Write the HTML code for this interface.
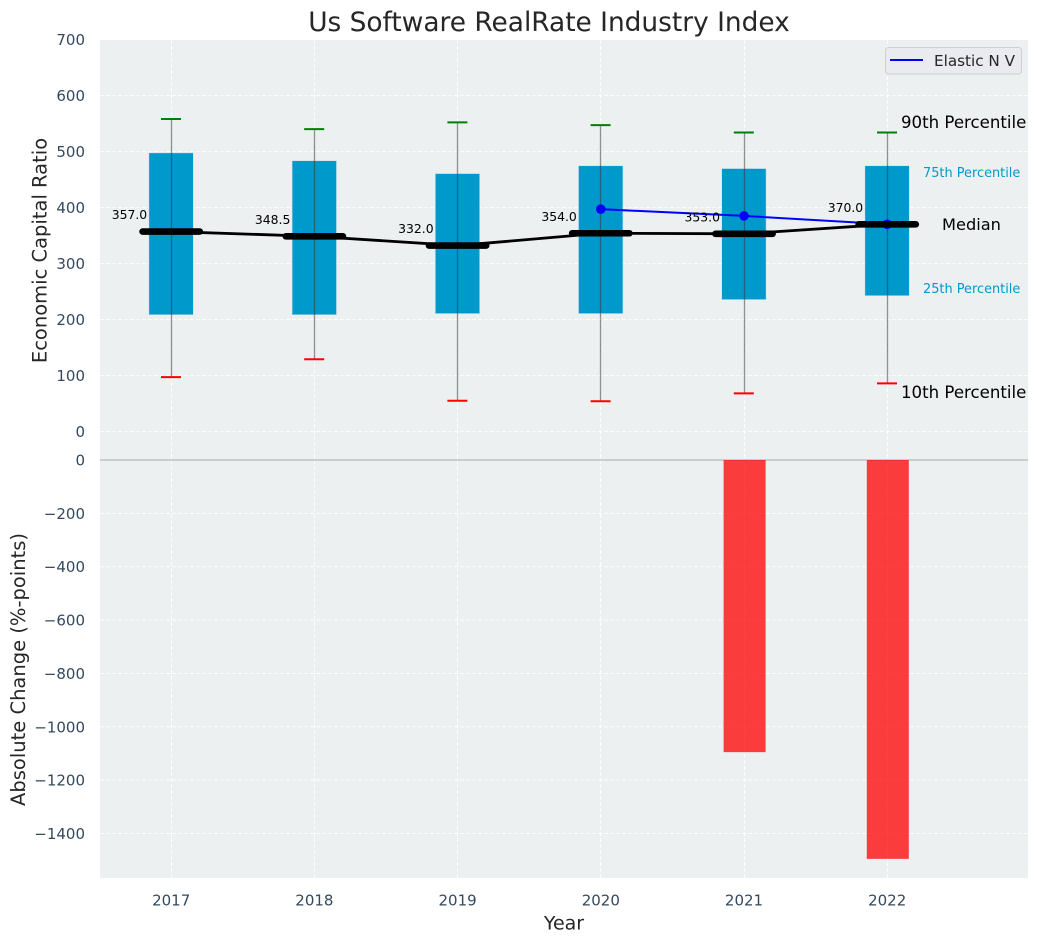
<!DOCTYPE html>
<html lang="en">
<head>
<meta charset="utf-8">
<title>Us Software RealRate Industry Index</title>
<style>
html,body{margin:0;padding:0;background:#fff;width:1039px;height:942px;overflow:hidden}
svg{display:block}
text{font-family:"DejaVu Sans","Liberation Sans",sans-serif}
</style>
</head>
<body>
<svg id="chart" xmlns="http://www.w3.org/2000/svg" width="1039" height="942" viewBox="0 0 1039 942"></svg>
<script>
const years = [2017, 2018, 2019, 2020, 2021, 2022];
const p10 = [97, 129, 55, 54, 68, 86];
const p25 = [209, 209, 211, 211, 236, 243];
const medians = [357, 348.5, 332, 354, 353, 370];
const p75 = [497, 483, 460, 474, 469, 474];
const p90 = [558, 540, 552, 547, 534, 534];
const elasticYears = [2020, 2021, 2022];
const elasticValues = [397, 385, 370];
const changeYears = [2021, 2022];
const changeValues = [-1095, -1495];
const topTicks = [0, 100, 200, 300, 400, 500, 600, 700];
const bottomTicks = [0, -200, -400, -600, -800, -1000, -1200, -1400];

const svg = document.getElementById('chart');
const NS = 'http://www.w3.org/2000/svg';
const plotLeft = 100, plotRight = 1028, plotTop = 40, plotBottom = 878;
const xS = v => 171.2 + (v - 2017) * 143.2;
const xPx = v => Math.floor(xS(v) + 0.1) + 0.5;
const yTop = v => 431.5 - v * 0.56;
const yBottom = v => 460 - v * 0.2668;
const fmtTick = v => String(v).replace('-', '\u2212');

function add(tag, attrs, text) {
  const el = document.createElementNS(NS, tag);
  for (const k in attrs) el.setAttribute(k, attrs[k]);
  if (text !== undefined) el.textContent = text;
  svg.appendChild(el);
  return el;
}

let el;
el = add('rect', {x: plotLeft, y: plotTop, width: plotRight - plotLeft, height: plotBottom - plotTop, fill: '#ecf0f1'});



// Grid
years.forEach(function (yr) {
  const g = add('line', {x1: xPx(yr), x2: xPx(yr), y1: plotTop, y2: plotBottom, stroke: '#fff', 'stroke-width': 1, 'stroke-dasharray': '4 2', opacity: 0.9});
  
  
});
topTicks.forEach(function (t) {
  const g = add('line', {x1: plotLeft, x2: plotRight, y1: yTop(t), y2: yTop(t), stroke: '#fff', 'stroke-width': 1, 'stroke-dasharray': '4 2', opacity: 0.9});
  
  
  const l = add('text', {x: 85, y: yTop(t) + 5.5, 'text-anchor': 'end', 'font-size': 15, fill: '#34495e'}, fmtTick(t));
  
  
});
bottomTicks.forEach(function (t) {
  if (t !== 0) {
    const g = add('line', {x1: plotLeft, x2: plotRight, y1: yBottom(t), y2: yBottom(t), stroke: '#fff', 'stroke-width': 1, 'stroke-dasharray': '4 2', opacity: 0.9});
    
    
  }
  const l = add('text', {x: 85, y: yBottom(t) + 5.5, 'text-anchor': 'end', 'font-size': 15, fill: '#34495e'}, fmtTick(t));
  
  
});
el = add('line', {x1: plotLeft, x2: plotRight, y1: yBottom(0), y2: yBottom(0), stroke: '#b5b5b5', 'stroke-width': 1.3});



// Change bars
changeYears.forEach(function (yr, i) {
  const b = add('rect', {x: xS(yr) - 20.4, y: yBottom(0), width: 42, height: yBottom(changeValues[i]) - yBottom(0), fill: '#ff0000', 'fill-opacity': 0.75});
  
  
});

// Boxes
years.forEach(function (yr, i) {
  const b = add('rect', {x: xS(yr) - 22, y: yTop(p75[i]), width: 43.8, height: yTop(p25[i]) - yTop(p75[i]), fill: '#0099cc', stroke: '#0099cc', 'stroke-opacity': 0.2, 'stroke-width': 1});
  
  
});
// Whiskers and caps
years.forEach(function (yr, i) {
  const w = add('line', {x1: xPx(yr), x2: xPx(yr), y1: yTop(p90[i]), y2: yTop(p10[i]), stroke: '#3a3a3a', 'stroke-opacity': 0.55, 'stroke-width': 1.3});
  
  
  const hi = add('line', {x1: xS(yr) - 10.2, x2: xS(yr) + 9.8, y1: yTop(p90[i]), y2: yTop(p90[i]), stroke: '#008000', 'stroke-width': 2});
  
  
  const lo = add('line', {x1: xS(yr) - 10.2, x2: xS(yr) + 9.8, y1: yTop(p10[i]), y2: yTop(p10[i]), stroke: '#ff0000', 'stroke-width': 2});
  
  
});

// Elastic N V series
el = add('polyline', {points: elasticYears.map(function (yr, i) { return xS(yr) + ',' + yTop(elasticValues[i]); }).join(' '), fill: 'none', stroke: '#0000ff', 'stroke-width': 2});


elasticYears.forEach(function (yr, i) {
  const c = add('circle', {cx: xS(yr), cy: yTop(elasticValues[i]), r: 4.8, fill: '#0000ff'});
  
  
});

// Median trend and bars
el = add('polyline', {points: years.map(function (yr, i) { return xS(yr) + ',' + yTop(medians[i]); }).join(' '), fill: 'none', stroke: '#000', 'stroke-width': 2.8});


years.forEach(function (yr, i) {
  const m = add('line', {x1: xS(yr) - 28.6, x2: xS(yr) + 28.6, y1: yTop(medians[i]), y2: yTop(medians[i]), stroke: '#000', 'stroke-width': 6.6, 'stroke-linecap': 'round'});
  
  
  const t = add('text', {x: xS(yr) - 24, y: yTop(medians[i]) - 12.5, 'text-anchor': 'end', 'font-size': 12.4, fill: '#000'}, medians[i].toFixed(1));
  
  
  const x = add('text', {x: xS(yr), y: 905.5, 'text-anchor': 'middle', 'font-size': 15, fill: '#34495e'}, String(yr));
  
  
});

// Percentile annotations
el = add('text', {x: 901, y: 128, 'font-size': 16.6, fill: '#000'}, '90th Percentile');


el = add('text', {x: 923, y: 177, 'font-size': 12.9, fill: '#0099cc'}, '75th Percentile');


el = add('text', {x: 971.5, y: 230, 'text-anchor': 'middle', 'font-size': 16.2, fill: '#000'}, 'Median');


el = add('text', {x: 923, y: 293, 'font-size': 12.9, fill: '#0099cc'}, '25th Percentile');


el = add('text', {x: 901, y: 398, 'font-size': 16.6, fill: '#000'}, '10th Percentile');



// Legend
el = add('rect', {x: 885.5, y: 47.5, width: 136, height: 26.5, rx: 3, fill: '#eaeaf2', stroke: '#cccccc', 'stroke-width': 1, opacity: 0.9});


el = add('line', {x1: 890, x2: 923, y1: 60, y2: 60, stroke: '#0000ff', 'stroke-width': 2});


el = add('text', {x: 934, y: 66, 'font-size': 15.2, fill: '#262626'}, 'Elastic N V');



// Titles
el = add('text', {x: 549, y: 31, 'text-anchor': 'middle', 'font-size': 26.4, fill: '#262626'}, 'Us Software RealRate Industry Index');


el = add('text', {x: 564, y: 929.5, 'text-anchor': 'middle', 'font-size': 19, fill: '#262626'}, 'Year');


el = add('text', {transform: 'translate(46.5,250.5) rotate(-90)', 'text-anchor': 'middle', 'font-size': 19.5, fill: '#262626'}, 'Economic Capital Ratio');


el = add('text', {transform: 'translate(25,669.5) rotate(-90)', 'text-anchor': 'middle', 'font-size': 19.5, fill: '#262626'}, 'Absolute Change (%-points)');


</script>
</body>
</html>
